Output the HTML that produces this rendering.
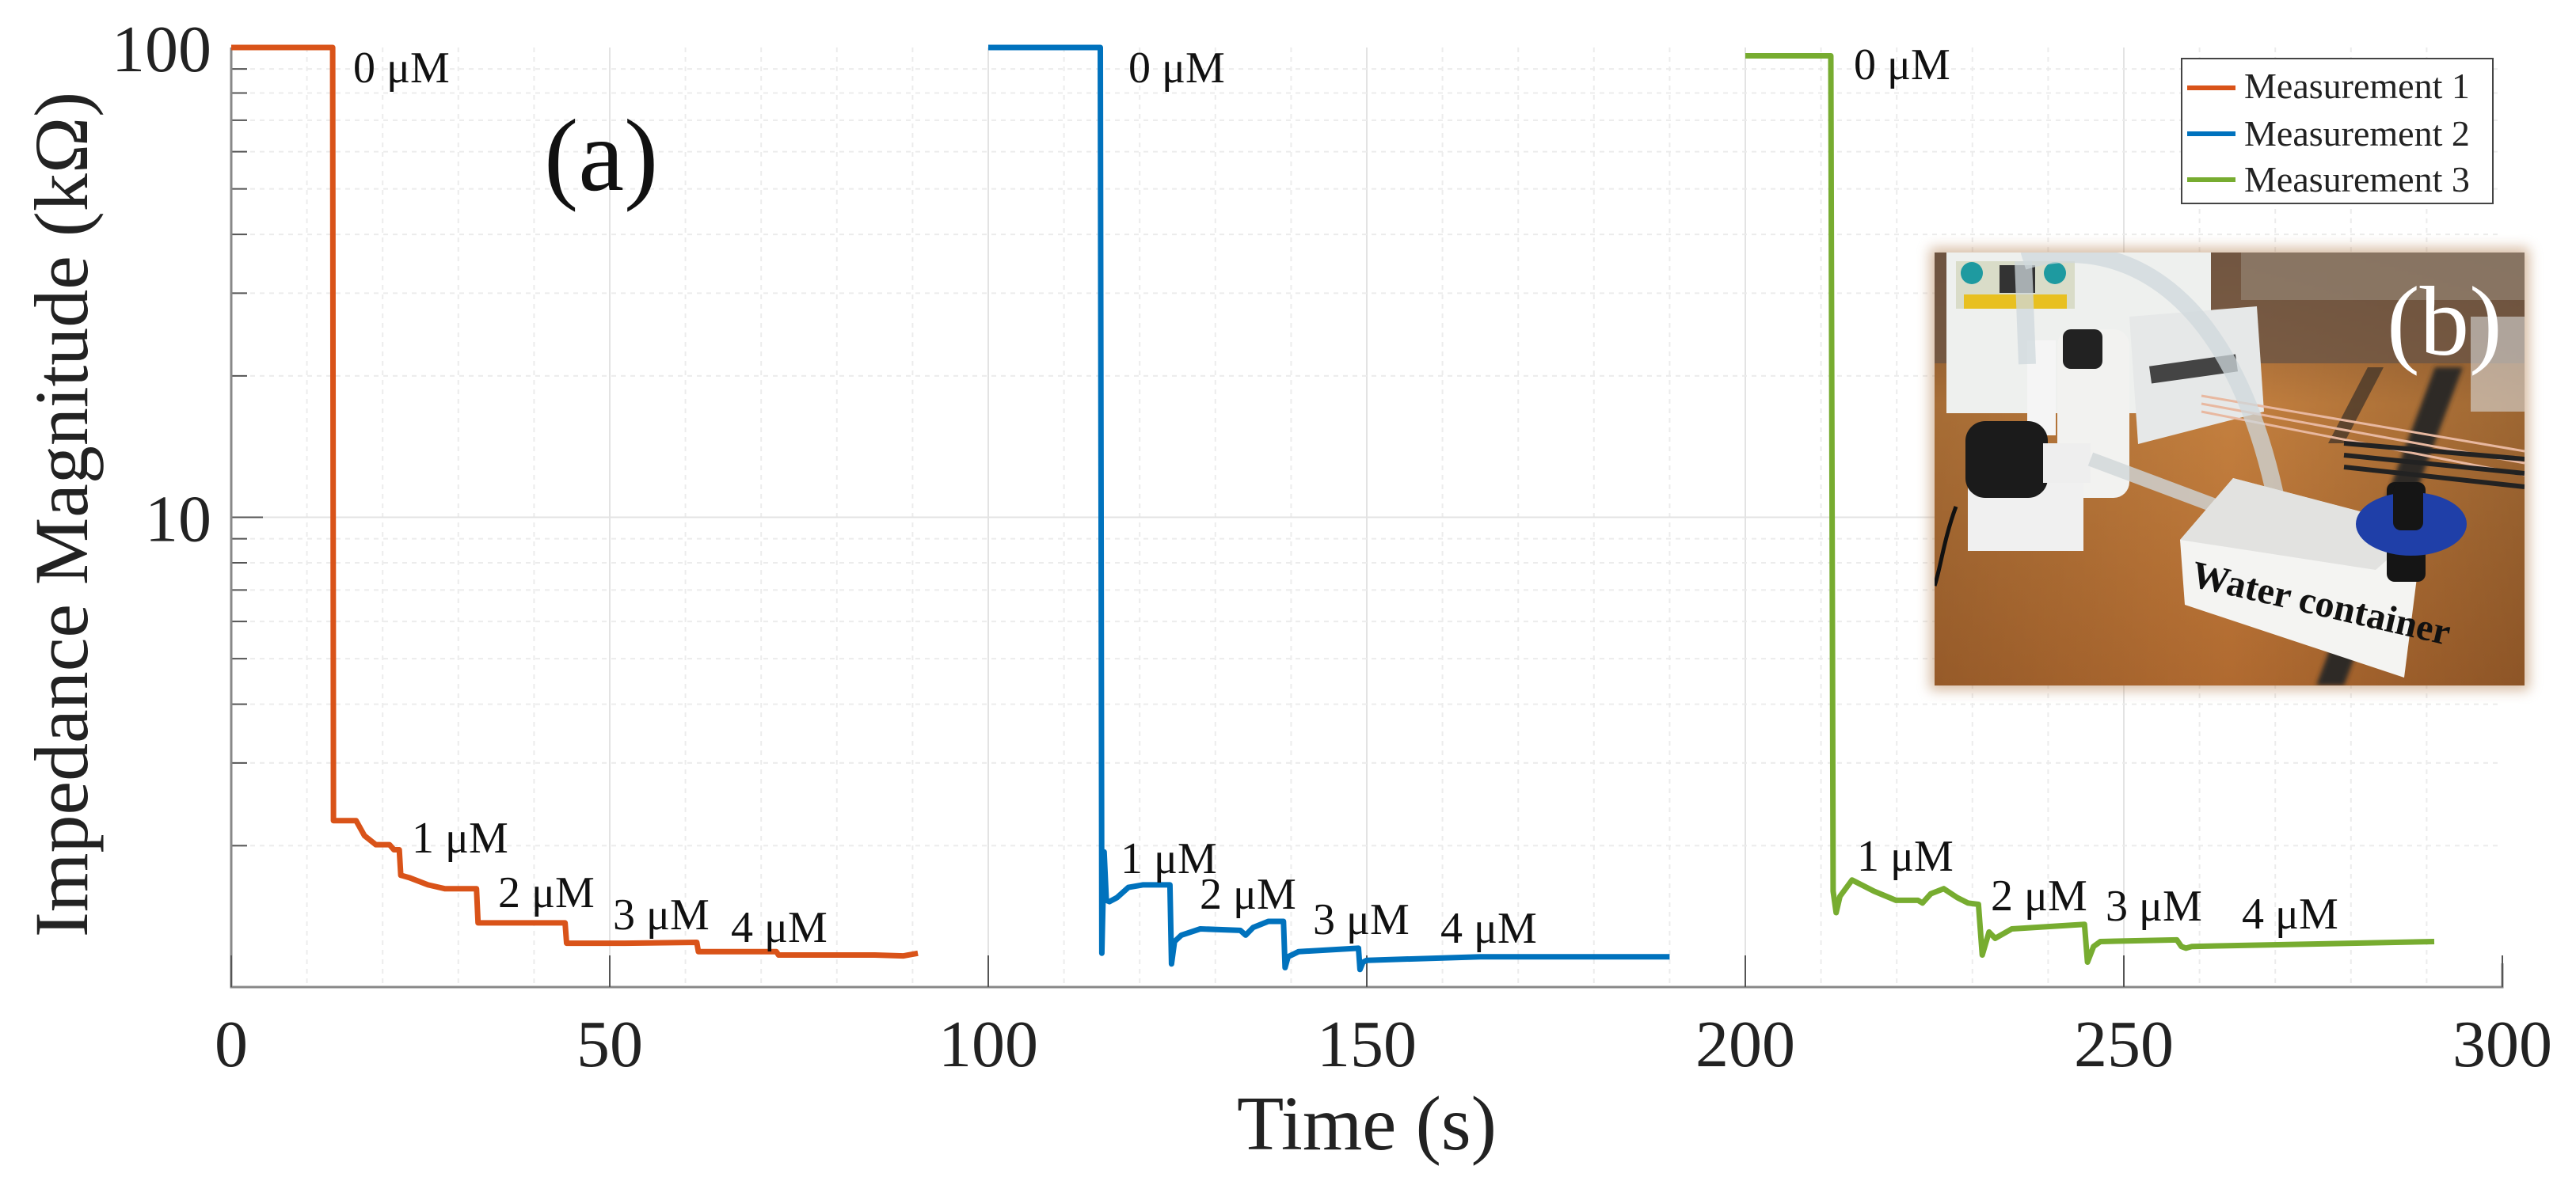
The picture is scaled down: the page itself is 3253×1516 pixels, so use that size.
<!DOCTYPE html>
<html><head><meta charset="utf-8">
<style>
html,body{margin:0;padding:0;background:#fff;}
svg{display:block;}
svg text{font-family:"Liberation Serif","DejaVu Serif",serif;}
</style></head>
<body>
<svg id="chart" width="3253" height="1516" viewBox="0 0 3253 1516" xmlns="http://www.w3.org/2000/svg" font-family="Liberation Serif, DejaVu Serif, serif">
<defs>
<linearGradient id="wood" x1="0" y1="0" x2="0" y2="1">
<stop offset="0" stop-color="#8a5a33"/><stop offset="0.35" stop-color="#c4803f"/><stop offset="1" stop-color="#b06a30"/>
</linearGradient>
<linearGradient id="woodh" x1="0" y1="0" x2="1" y2="0">
<stop offset="0" stop-color="#000" stop-opacity="0.15"/><stop offset="0.5" stop-color="#000" stop-opacity="0"/><stop offset="1" stop-color="#000" stop-opacity="0.2"/>
</linearGradient>
<filter id="soft" x="-5%" y="-5%" width="110%" height="110%"><feGaussianBlur stdDeviation="3"/></filter>
<filter id="edge" x="-5%" y="-5%" width="110%" height="110%"><feGaussianBlur stdDeviation="8"/></filter>
<clipPath id="photoClip"><rect x="2443" y="319" width="745" height="547"/></clipPath>
</defs>
<g id="grid"></g>
<g id="axes"></g>
<g id="series"></g>
<g id="labels"></g>

<g>
<rect x="2437" y="313" width="757" height="559" fill="#b07a4a" opacity="0.5" filter="url(#edge)"/>
<g clip-path="url(#photoClip)">
<rect x="2443" y="319" width="745" height="547" fill="url(#wood)"/>
<rect x="2443" y="319" width="745" height="547" fill="url(#woodh)"/>
<rect x="2443" y="319" width="745" height="140" fill="#6b5545" opacity="0.8"/>
<rect x="2830" y="319" width="358" height="60" fill="#9a8a7a" opacity="0.6"/>
<path d="M3075 464 L3110 464 L2960 866 L2925 866 Z" fill="#2e2a28" filter="url(#soft)"/>
<path d="M2990 464 L3010 464 L2960 560 L2940 560 Z" fill="#3a3028" opacity="0.7"/>
<rect x="3120" y="400" width="68" height="120" fill="#d8d8d8" opacity="0.6"/>
<path d="M2458 319 L2792 319 L2792 440 L2700 470 L2700 522 L2458 522 Z" fill="#eef0ee"/>
<rect x="2470" y="330" width="150" height="60" fill="#d9dcc8"/>
<circle cx="2490" cy="345" r="14" fill="#1e9aa0"/><circle cx="2595" cy="345" r="14" fill="#1e9aa0"/>
<rect x="2525" y="335" width="45" height="35" fill="#333"/>
<rect x="2480" y="372" width="130" height="18" fill="#e8c020"/>
<path d="M2689 400 L2850 387 L2859 520 L2700 561 Z" fill="#e6e8e8"/>
<rect x="2715" y="455" width="110" height="22" fill="#444" transform="rotate(-8 2770 466)"/>
<path d="M2780 500 L3188 570 M2780 510 L3188 585 M2780 520 L3188 600" stroke="#e8b8a0" stroke-width="3" fill="none"/>
<path d="M2960 560 L3188 580 M2960 575 L3188 598 M2960 590 L3188 615" stroke="#222" stroke-width="6" fill="none"/>
<rect x="2598" y="416" width="91" height="213" rx="20" fill="#f2f2f0"/>
<rect x="2605" y="416" width="50" height="50" rx="10" fill="#222"/>
<rect x="2560" y="430" width="36" height="120" fill="#f5f5f5"/>
<rect x="2485" y="609" width="146" height="87" fill="#f0f0f0"/>
<rect x="2482" y="532" width="104" height="97" rx="25" fill="#1b1b1b"/>
<rect x="2580" y="560" width="60" height="50" fill="#eeeeee"/>
<path d="M2470 640 C2455 680 2450 720 2443 740" stroke="#111" stroke-width="5" fill="none"/>
<path d="M2640 580 L2800 640" stroke="#cfd6d8" stroke-width="18" fill="none" opacity="0.8"/>
<path d="M2555 330 C2650 300 2820 330 2880 660" stroke="#cfd8dc" stroke-width="22" fill="none" opacity="0.75"/>
<path d="M2555 330 L2560 460" stroke="#cfd8dc" stroke-width="22" fill="none" opacity="0.75"/>
<path d="M2753 682 L2820 604 L3060 667 L3036 856 L2759 764 Z" fill="#f4f4f2"/>
<path d="M2753 682 L2820 604 L3060 667 L3000 720 Z" fill="#e2e2e0"/>
<text x="2765" y="740" font-size="48" font-weight="bold" fill="#111" transform="rotate(13 2765 740)">Water container</text>
<rect x="3014" y="609" width="49" height="126" rx="10" fill="#151515"/>
<ellipse cx="3045" cy="662" rx="70" ry="40" fill="#1f3fa8"/>
<rect x="3022" y="610" width="38" height="60" rx="10" fill="#151515"/>
<text x="3014" y="448" font-size="125" fill="#fff">(b)</text>
</g>
</g>

<g>
<rect x="2755" y="74" width="393" height="183" fill="#fff" stroke="#444" stroke-width="2"/>
<line x1="2762" y1="111" x2="2823" y2="111" stroke="#D95319" stroke-width="6"/>
<line x1="2762" y1="169" x2="2823" y2="169" stroke="#0072BD" stroke-width="6"/>
<line x1="2762" y1="227" x2="2823" y2="227" stroke="#77AC30" stroke-width="6"/>
<text x="2834" y="124" font-size="46" fill="#222">Measurement 1</text>
<text x="2834" y="184" font-size="46" fill="#222">Measurement 2</text>
<text x="2834" y="242" font-size="46" fill="#222">Measurement 3</text>
</g>
<text x="687" y="240" font-size="130" fill="#111">(a)</text>
<text x="1726" y="1452" font-size="97" fill="#222" text-anchor="middle">Time (s)</text>
<text transform="translate(110 650) rotate(-90)" font-size="96" fill="#222" text-anchor="middle">Impedance Magnitude (kΩ)</text>
</svg>
<script>
const m1T = [0,13.4,13.5,16.5,17.6,19.1,20.9,21.5,22.2,22.4,23.5,26,28.2,32.4,32.6,44.1,44.3,52,61.5,61.7,72,72.3,85,88.8,90.7];
const m1V = [100,100,2.26,2.26,2.1,2.01,2.01,1.96,1.96,1.73,1.71,1.65,1.62,1.62,1.37,1.37,1.24,1.24,1.245,1.19,1.19,1.17,1.17,1.165,1.18];
const m2T = [100,114.8,115,115.3,115.6,116,117,118.5,120.4,124,124.2,124.6,125.5,128,133.3,134,135,137,139,139.2,139.6,141,148.9,149.1,149.5,150,165,190];
const m2V = [100,100,1.18,1.94,1.53,1.52,1.55,1.63,1.65,1.65,1.12,1.25,1.29,1.33,1.32,1.29,1.34,1.38,1.38,1.10,1.16,1.19,1.21,1.09,1.13,1.14,1.16,1.16];
const m3T = [200,211.3,211.6,212,212.5,214.1,217,219.9,222.8,223.4,224.5,226.2,228,229.4,230.8,231.3,232.2,233,235.2,244.8,245.2,246,246.9,257,257.6,258.2,259,275,291];
const m3V = [96,96,1.6,1.44,1.56,1.69,1.6,1.53,1.53,1.51,1.58,1.62,1.55,1.51,1.5,1.17,1.31,1.27,1.33,1.36,1.13,1.22,1.25,1.26,1.22,1.21,1.22,1.235,1.25];
const xTicks = [0,50,100,150,200,250,300];
const yTicks = [10,100];
const annText = ["0 μM","1 μM","2 μM","3 μM","4 μM"];
const annX = [[446,520,629,774,923],[1425,1415,1515,1658,1819],[2341,2345,2514,2659,2831]];
const annY = [[104,1077,1146,1174,1190],[104,1103,1148,1180,1191],[100,1100,1150,1163,1173]];

const NS="http://www.w3.org/2000/svg";
const L=292,R=3160,B=1247,T=60;
function xs(t){return L+(t/300)*(R-L);}
function ys(v){return B-Math.log10(v)*((B-T)/2);}
function mk(tag,attrs,parent){const e=document.createElementNS(NS,tag);for(const k in attrs)e.setAttribute(k,attrs[k]);parent.appendChild(e);return e;}
const grid=document.getElementById('grid'),axes=document.getElementById('axes'),series=document.getElementById('series'),labels=document.getElementById('labels');
for(let t=10;t<300;t+=10){
  const major=t%50===0;
  const g=mk('line',{x1:xs(t),x2:xs(t),y1:T,y2:B,stroke:major?'#e3e3e3':'#ececec','stroke-width':2,'stroke-dasharray':major?'none':'6 6'},grid);
  
  
}
for(let d=1;d<=10;d*=10){for(let m=1;m<=9;m++){const v=d*m;if(v<=1||v>100)continue;
  const major=(m===1);
  const g=mk('line',{x1:L,x2:R,y1:ys(v),y2:ys(v),stroke:major?'#e3e3e3':'#ececec','stroke-width':2,'stroke-dasharray':major?'none':'6 6'},grid);
  
  
  const tk=mk('line',{x1:L,x2:L+(major?40:20),y1:ys(v),y2:ys(v),stroke:'#555','stroke-width':2},axes);
  
  
}}
const ax=mk('path',{d:`M${L} ${T} L${L} ${B} L${R} ${B} L${R} ${B-30}`,stroke:'#888','stroke-width':3,fill:'none'},axes);


xTicks.forEach(t=>{
  const tk=mk('line',{x1:xs(t),x2:xs(t),y1:B,y2:B-40,stroke:'#555','stroke-width':2},axes);
  
  
  const tx=mk('text',{x:xs(t),y:1347,'font-size':84,'text-anchor':'middle',fill:'#222'},axes);
  tx.textContent=t;
  
  
});
yTicks.forEach(v=>{
  const tx=mk('text',{x:267,y:ys(v)+30,'font-size':84,'text-anchor':'end',fill:'#222'},axes);
  tx.textContent=v;
  
  
});
const sets=[[m1T,m1V,'#D95319','measurement-1-line'],[m2T,m2V,'#0072BD','measurement-2-line'],[m3T,m3V,'#77AC30','measurement-3-line']];
sets.forEach(([ts,vs,c,n])=>{
  const d=ts.map((t,i)=>(i?'L':'M')+xs(t).toFixed(1)+' '+ys(vs[i]).toFixed(1)).join(' ');
  const p=mk('path',{d:d,stroke:c,'stroke-width':7,fill:'none','stroke-linejoin':'round'},series);
  
  
});
annX.forEach((row,s)=>row.forEach((x,i)=>{
  const tx=mk('text',{x:x,y:annY[s][i],'font-size':56,fill:'#111'},labels);
  tx.textContent=annText[i];
  
  
}));
</script>
</body></html>
